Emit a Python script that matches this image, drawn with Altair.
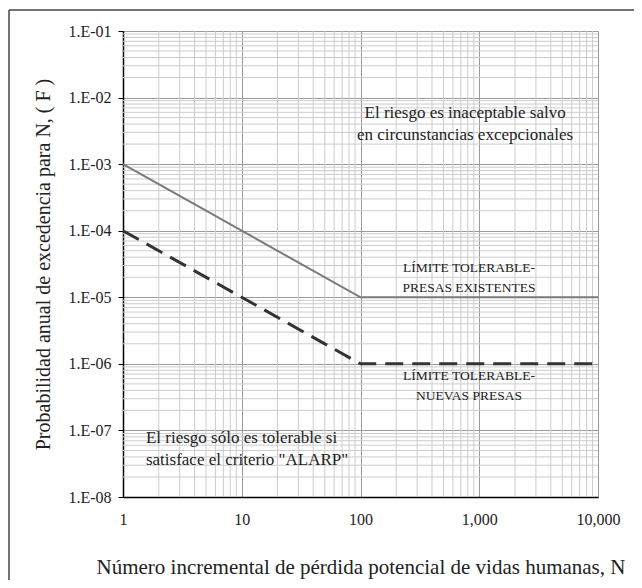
import altair as alt
import pandas as pd

# ---- data ----
N_points = [1, 100, 10000]
F_existentes = [1e-3, 1e-5, 1e-5]
F_nuevas = [1e-4, 1e-6, 1e-6]

x_ticks = [1, 10, 100, 1000, 10000]
y_ticks = [1e-8, 1e-7, 1e-6, 1e-5, 1e-4, 1e-3, 1e-2, 1e-1]
minor_mult = [2, 3, 4, 5, 6, 7, 8, 9]
x_minor = [m * t for t in x_ticks[:-1] for m in minor_mult]
y_minor = [m * t for t in y_ticks[:-1] for m in minor_mult]

top_text = ["El riesgo es inaceptable salvo", "en circunstancias excepcionales"]
top_N = [760, 760]
top_F = [4.9e-3, 2.3e-3]

bottom_text = ["El riesgo sólo es tolerable si", 'satisface el criterio "ALARP"']
bottom_N = [1.56, 1.56]
bottom_F = [6.47e-8, 3.02e-8]

lim_text = ["LÍMITE TOLERABLE-", "PRESAS EXISTENTES", "LÍMITE TOLERABLE-", "NUEVAS PRESAS"]
lim_N = [820, 820, 820, 820]
lim_F = [2.4e-5, 1.2e-5, 5.7e-7, 2.86e-7]

SERIF = "Liberation Serif"
TXT = "#222222"

xs = alt.Scale(type="log", domain=[1, 10000])
ys = alt.Scale(type="log", domain=[1e-8, 1e-1])

x_axis = alt.Axis(
    values=x_ticks, format=",d",
    title="Número incremental de pérdida potencial de vidas humanas, N",
    grid=True, gridColor="#9a9a9a", gridWidth=1,
    ticks=False, labelPadding=14, labelFlush=False, labelOverlap=False,
    labelFontSize=16, labelFont=SERIF, labelColor=TXT,
    titleFontSize=21, titleFont=SERIF, titleFontWeight="normal", titleColor=TXT,
    titleY=76, titleBaseline="alphabetic", domainColor="black", domainWidth=1.5,
)
y_axis = alt.Axis(
    values=y_ticks, labelExpr="'1.E-0' + round(-log(datum.value)/LN10)",
    title="Probabilidad anual de excedencia para N, ( F )",
    grid=True, gridColor="#9a9a9a", gridWidth=1,
    tickSize=5, tickColor="black", labelPadding=7, labelFlush=False, labelOverlap=False,
    labelFontSize=16, labelFont=SERIF, labelColor=TXT,
    titleFontSize=20, titleFont=SERIF, titleFontWeight="normal", titleColor=TXT,
    titleX=-80, titleY=233, titleBaseline="middle",
    domainColor="black", domainWidth=1.5,
)

X = lambda: alt.X("N:Q", scale=xs, axis=x_axis)
Y = lambda: alt.Y("F:Q", scale=ys, axis=y_axis)

xminor = alt.Chart(pd.DataFrame({"N": x_minor})).mark_rule(color="#cccccc", strokeWidth=1).encode(x=X())
yminor = alt.Chart(pd.DataFrame({"F": y_minor})).mark_rule(color="#cccccc", strokeWidth=1).encode(y=Y())

ex = alt.Chart(pd.DataFrame({"N": N_points, "F": F_existentes})).mark_line(
    color="#7a7a7a", strokeWidth=2).encode(x=X(), y=Y())
nu = alt.Chart(pd.DataFrame({"N": N_points, "F": F_nuevas})).mark_line(
    color="#333333", strokeWidth=3, strokeDash=[18, 9]).encode(x=X(), y=Y())

t_top = alt.Chart(pd.DataFrame({"N": top_N, "F": top_F, "t": top_text})).mark_text(
    font=SERIF, fontSize=17, color=TXT, align="center", baseline="alphabetic").encode(x=X(), y=Y(), text="t:N")
t_bot = alt.Chart(pd.DataFrame({"N": bottom_N, "F": bottom_F, "t": bottom_text})).mark_text(
    font=SERIF, fontSize=17, color=TXT, align="left", baseline="alphabetic").encode(x=X(), y=Y(), text="t:N")
t_lim = alt.Chart(pd.DataFrame({"N": lim_N, "F": lim_F, "t": lim_text})).mark_text(
    font=SERIF, fontSize=13.5, color=TXT, align="center", baseline="alphabetic").encode(x=X(), y=Y(), text="t:N")

frame_data = alt.Data(values=[{"k": 0}])
frame_left = alt.Chart(frame_data).mark_rule(color="#444444", strokeWidth=1.5).encode(
    x=alt.value(-114), y=alt.value(-21), y2=alt.value(560))
frame_top = alt.Chart(frame_data).mark_rule(color="#444444", strokeWidth=1.5).encode(
    x=alt.value(-114), x2=alt.value(520), y=alt.value(-21))

chart = alt.layer(xminor, yminor, ex, nu, t_top, t_bot, t_lim, frame_left, frame_top).properties(
    width=475, height=466,
    autosize=alt.AutoSizeParams(type="none"),
    padding={"left": 115, "top": 23, "right": 36, "bottom": 83},
).configure_view(stroke="black", strokeWidth=1.5).configure(font=SERIF)

chart.save("out.html", embed_options={"renderer": "svg", "actions": False})
